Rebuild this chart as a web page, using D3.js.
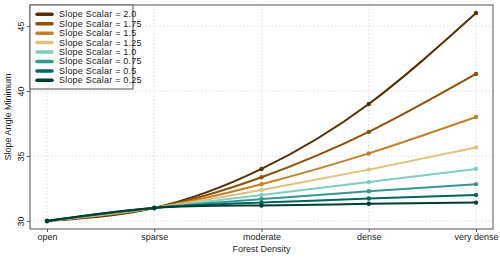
<!DOCTYPE html>
<html><head><meta charset="utf-8">
<script src="https://cdn.jsdelivr.net/npm/d3@7"></script>
<style>body{margin:0;background:#fff}svg{display:block}text{font-family:"Liberation Sans",Arial,sans-serif}</style>
</head><body><svg id="c" width="500" height="260"></svg>
<script>
const categories = ["open","sparse","moderate","dense","very dense"];
const scalars = ["2.0","1.75","1.5","1.25","1.0","0.75","0.5","0.25"];
const colors = ["#543005","#8c510a","#bf812d","#dfc27d","#80cdc1","#35978f","#01665e","#003c30"];
const s20  = [30, 31, 34.0, 39.0, 46.0];
const s175 = [30, 31, 33.36, 36.85, 41.31];
const s15  = [30, 31, 32.83, 35.2, 38.0];
const s125 = [30, 31, 32.38, 33.95, 35.66];
const s10  = [30, 31, 32.0, 33.0, 34.0];
const s075 = [30, 31, 31.68, 32.28, 32.83];
const s05  = [30, 31, 31.41, 31.73, 32.0];
const s025 = [30, 31, 31.19, 31.32, 31.41];
const series = [s20,s175,s15,s125,s10,s075,s05,s025];
const yTicks = [30,35,40,45];

const svg = d3.select("#c");
const L=30,R=493,T=5,B=229;
const x = d3.scalePoint().domain(categories).range([47,476]);
const y = d3.scaleLinear().domain([29.38,46.62]).range([B,T]);

// grid
const g = svg.append("g");
g.selectAll(".vg").data(categories).join("line")
  .attr("x1",d=>x(d)).attr("x2",d=>x(d)).attr("y1",T).attr("y2",B)
  .attr("stroke","#d3d3d3").attr("stroke-width",0.8).attr("stroke-dasharray","1.5,2");
g.selectAll(".hg").data(yTicks).join("line")
  .attr("x1",L).attr("x2",R).attr("y1",d=>y(d)).attr("y2",d=>y(d))
  .attr("stroke","#d3d3d3").attr("stroke-width",0.8).attr("stroke-dasharray","1.5,2");

// lines
const line = d3.line().x((d,i)=>x(categories[i])).y(d=>y(d)).curve(d3.curveNatural);
series.forEach((s,k)=>{
  svg.append("path").attr("d",line(s)).attr("fill","none")
    .attr("stroke",colors[k]).attr("stroke-width",2);
  svg.selectAll(null).data(s).join("circle")
    .attr("cx",(d,i)=>x(categories[i])).attr("cy",d=>y(d)).attr("r",2.2)
    .attr("fill",colors[k]);
});

// frame
svg.append("rect").attr("x",L).attr("y",T).attr("width",R-L).attr("height",B-T)
  .attr("fill","none").attr("stroke","#6e6e6e").attr("stroke-width",1.2);

// axes
const xa = svg.append("g").attr("transform",`translate(0,${B})`)
  .call(d3.axisBottom(x).tickSize(3).tickSizeOuter(0));
xa.select(".domain").remove();
xa.selectAll("line").attr("stroke","#555");
xa.selectAll("text").attr("font-size",9).attr("fill","#222").attr("dy","0.95em").attr("y",2.5);

const ya = svg.append("g").attr("transform",`translate(${L},0)`)
  .call(d3.axisLeft(y).tickValues(yTicks).tickSize(3).tickSizeOuter(0));
ya.select(".domain").remove();
ya.selectAll("line").attr("stroke","#555");
ya.selectAll("text").attr("font-size",9).attr("fill","#222")
  .attr("text-anchor","middle").attr("dy",null).attr("x",null)
  .attr("transform",d=>`translate(-9,0) rotate(-90)`).attr("dominant-baseline","central");

svg.append("text").attr("x",(L+R)/2).attr("y",252).attr("text-anchor","middle")
  .attr("font-size",9).attr("fill","#222").text("Forest Density");
svg.append("text").attr("transform",`translate(8,${(T+B)/2}) rotate(-90)`)
  .attr("text-anchor","middle").attr("dominant-baseline","central")
  .attr("font-size",9).attr("fill","#222").text("Slope Angle Minimum");

// legend
const lg = svg.append("g");
lg.append("rect").attr("x",L).attr("y",T).attr("width",103).attr("height",84)
  .attr("fill","#fff").attr("stroke","#6e6e6e").attr("stroke-width",1.2);
scalars.forEach((s,k)=>{
  const yy = 14.3 + k*9.43;
  lg.append("line").attr("x1",37).attr("x2",52).attr("y1",yy).attr("y2",yy)
    .attr("stroke",colors[k]).attr("stroke-width",3.5).attr("stroke-linecap","round");
  lg.append("text").attr("x",59).attr("y",yy).attr("dominant-baseline","central")
    .attr("font-size",9).attr("letter-spacing",0.2).attr("fill","#222").text("Slope Scalar = "+s);
});
</script></body></html>
